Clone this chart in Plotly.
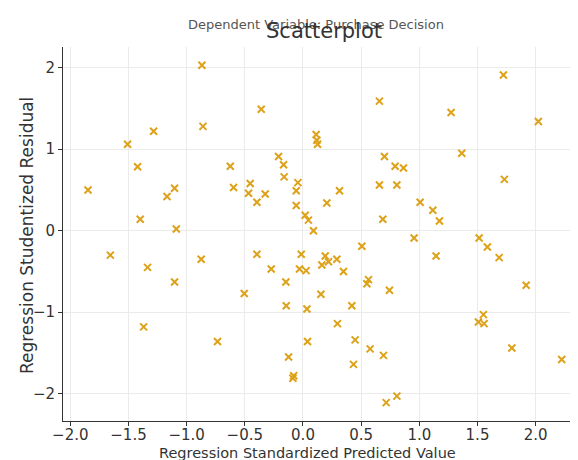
import plotly.graph_objects as go

# Regression Standardized Predicted Value
pred = [-0.869, -1.284, -0.860, -1.508, -1.422, -0.625, -1.848, -1.104, -1.169, -0.597,
        -1.399, -1.089,
        0.657, -0.359, 0.113, 0.119, 0.125, -0.210, -0.167, 0.700, 0.792, 0.864,
        -0.162, -0.454, -0.468, -0.396, -0.325, -0.044, -0.058, -0.058, 0.019, 0.047,
        0.090, 0.205, 0.314, 0.657, 0.807, 0.686,
        1.723, 1.273, 2.023, 1.365, 1.731, 1.007, 1.116, 1.173, 0.955, 1.514,
        -1.656, -1.336, -1.104, -0.875, -1.370, -0.735,
        0.506, -0.396, -0.015, 0.191, 0.291, 0.219, 0.162, -0.273, -0.030, 0.027,
        0.348, -0.147, 0.563, 0.549, 0.743, -0.505, 0.154, -0.144, 0.034, 0.420,
        0.296, 0.039, 0.448, 0.577, 0.692, -0.124, 0.434, -0.087, -0.080, 0.715, 0.807,
        1.585, 1.686, 1.144, 1.918, 1.551, 1.508, 1.557, 1.795, 2.224]

# Regression Studentized Residual
resid = [2.03, 1.22, 1.28, 1.06, 0.785, 0.79, 0.50, 0.52, 0.42, 0.53,
         0.14, 0.02,
         1.59, 1.49, 1.18, 1.11, 1.06, 0.91, 0.81, 0.91, 0.79, 0.77,
         0.66, 0.58, 0.46, 0.35, 0.45, 0.59, 0.49, 0.31, 0.19, 0.13,
         0.00, 0.34, 0.49, 0.56, 0.56, 0.14,
         1.91, 1.45, 1.34, 0.95, 0.63, 0.35, 0.25, 0.12, -0.09, -0.09,
         -0.30, -0.45, -0.63, -0.35, -1.18, -1.36,
         -0.19, -0.29, -0.29, -0.31, -0.35, -0.38, -0.42, -0.47, -0.47, -0.49,
         -0.50, -0.63, -0.60, -0.65, -0.73, -0.77, -0.78, -0.92, -0.96, -0.92,
         -1.14, -1.36, -1.34, -1.45, -1.53, -1.55, -1.64, -1.81, -1.78, -2.11, -2.03,
         -0.20, -0.33, -0.31, -0.67, -1.03, -1.12, -1.14, -1.44, -1.58]

x_ticks = [-2.0, -1.5, -1.0, -0.5, 0.0, 0.5, 1.0, 1.5, 2.0]
y_ticks = [-2, -1, 0, 1, 2]

title = "Scatterplot"
subtitle = "Dependent Variable: Purchase Decision"
x_label = "Regression Standardized Predicted Value"
y_label = "Regression Studentized Residual"

FONT = "DejaVu Sans"
fig = go.Figure()
fig.add_trace(go.Scatter(
    x=pred, y=resid, mode="markers",
    marker=dict(symbol="x-thin", size=7, line=dict(color="#DDA21A", width=2), color="#DDA21A"),
    showlegend=False,
))

axis_common = dict(
    showgrid=True, gridcolor="#ebebeb", gridwidth=1,
    zeroline=False, showline=True, linecolor="#333333", linewidth=1,
    ticks="outside", ticklen=4, tickcolor="#333333",
    tickfont=dict(family=FONT, size=15, color="#333333"),
)
fig.update_xaxes(range=[-2.063, 2.364], tickvals=x_ticks, tickformat=".1f",
                 ticklabelstandoff=-4, **axis_common)
fig.update_yaxes(range=[-2.335, 2.254], tickvals=y_ticks, **axis_common)

fig.add_annotation(text=x_label, xref="paper", yref="paper", x=0.474, y=-0.086,
                   showarrow=False, xanchor="center", yanchor="middle",
                   font=dict(family=FONT, size=14.5, color="#333333"))
fig.add_annotation(text=y_label, xref="paper", yref="paper", x=-0.070, y=0.497,
                   showarrow=False, xanchor="center", yanchor="middle", textangle=-90,
                   font=dict(family=FONT, size=17, color="#333333"))
fig.add_annotation(text=subtitle, xref="paper", yref="paper", x=0.491, y=1.061,
                   showarrow=False, xanchor="center", yanchor="middle",
                   font=dict(family=FONT, size=13, color="#555555"))
fig.add_annotation(text=title, xref="paper", yref="paper", x=0.507, y=1.043,
                   showarrow=False, xanchor="center", yanchor="middle",
                   font=dict(family=FONT, size=21, color="#333333"))

# page body has an 8px default margin, so the figure is 8px smaller on each axis
fig.update_layout(
    width=570, height=452,
    margin=dict(l=55, r=0, t=39, b=39),
    plot_bgcolor="white", paper_bgcolor="white",
)
fig.write_html("out.html")
